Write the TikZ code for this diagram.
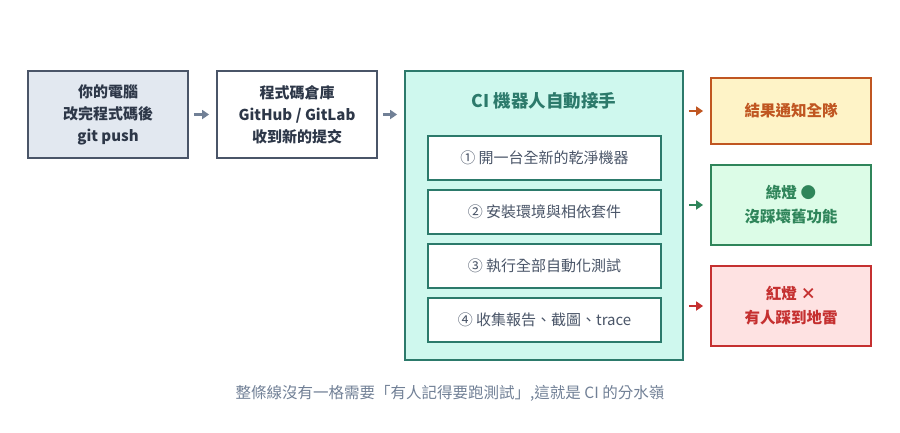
\documentclass[tikz,border=0pt]{standalone}
\usepackage{fontspec}
\setmainfont{Noto Sans CJK TC}
\usepackage{xcolor}
\usepackage{tikz}
\usetikzlibrary{arrows.meta,positioning,calc}
\definecolor{slateD}{HTML}{4A5568}
\definecolor{slateT}{HTML}{2D3748}
\definecolor{slateF}{HTML}{E2E8F0}
\definecolor{arrGray}{HTML}{718096}
\definecolor{ciTeal}{HTML}{2C7A6B}
\definecolor{ciFill}{HTML}{CFF8EE}
\definecolor{okOrange}{HTML}{C05621}
\definecolor{okOrangeF}{HTML}{FEF3C7}
\definecolor{okGreen}{HTML}{2F855A}
\definecolor{okGreenF}{HTML}{DCFCE7}
\definecolor{badRed}{HTML}{C53030}
\definecolor{badRedF}{HTML}{FEE2E2}
\tikzset{
  ci/box/.style={draw=slateD, line width=1.8pt, minimum width=160pt, minimum height=87pt, align=center, font=\bfseries\fontsize{15}{22}\selectfont, text=slateT, inner sep=0pt},
  ci/stage/.style={draw=ciTeal, line width=1.8pt, fill=ciFill, minimum width=278pt, minimum height=289pt, inner sep=0pt},
  ci/step/.style={draw=ciTeal, line width=1.2pt, fill=white, minimum width=233pt, minimum height=44pt, inner sep=0pt, font=\fontsize{15}{18}\selectfont, text=slateD},
  ci/out/.style={line width=1.8pt, minimum width=160pt, align=center, inner sep=0pt, font=\bfseries\fontsize{15.5}{24}\selectfont},
  ci/arr/.style={-{Triangle[length=7pt,width=9pt]}, line width=2.2pt, shorten <=5pt, shorten >=7pt}
}

\begin{document}
\begin{tikzpicture}[x=1pt, y=-1pt]
  \useasboundingbox (0,0) rectangle (900,432);
  % left side: developer and repo
  \node[ci/box, fill=slateF] (pc) at (108,114.5) {你的電腦\\改完程式碼後\\git push};
  \node[ci/box, fill=white] (repo) at (297,114.5) {程式碼倉庫\\GitHub / GitLab\\收到新的提交};
  \draw[ci/arr, arrGray] (pc) -- (repo);

  % the CI stage
  \node[ci/stage] (ci) at (544,215.5) {};
  \node[font=\bfseries\fontsize{17.5}{20}\selectfont, text=ciTeal] (citit) at (544,101) {CI 機器人自動接手};
  \node[ci/step] (s1) at (544.5,158) {① 開一台全新的乾淨機器};
  \node[ci/step] (s2) at (544.5,212) {② 安裝環境與相依套件};
  \node[ci/step] (s3) at (544.5,266) {③ 執行全部自動化測試};
  \node[ci/step] (s4) at (544.5,320) {④ 收集報告、截圖、trace};
  \draw[ci/arr, arrGray] (repo) -- (ci.west |- repo);

  % results
  \node[ci/out, draw=okOrange, fill=okOrangeF, text=okOrange, minimum height=66pt] (team) at (791,111) {結果通知全隊};
  \node[ci/out, draw=okGreen, fill=okGreenF, text=okGreen, minimum height=80pt] (green) at (791,205) {綠燈 ●\\沒踩壞舊功能};
  \node[ci/out, draw=badRed, fill=badRedF, text=badRed, minimum height=80pt] (red) at (791,306) {紅燈 ×\\有人踩到地雷};
  \draw[ci/arr, okOrange] (ci.east |- team) -- (team);
  \draw[ci/arr, okGreen] (ci.east |- green) -- (green);
  \draw[ci/arr, badRed] (ci.east |- red) -- (red);

  \node[text=arrGray, font=\fontsize{15.5}{18}\selectfont] (note) at (450,393) {整條線沒有一格需要「有人記得要跑測試」,這就是 CI 的分水嶺};
\end{tikzpicture}
\end{document}
